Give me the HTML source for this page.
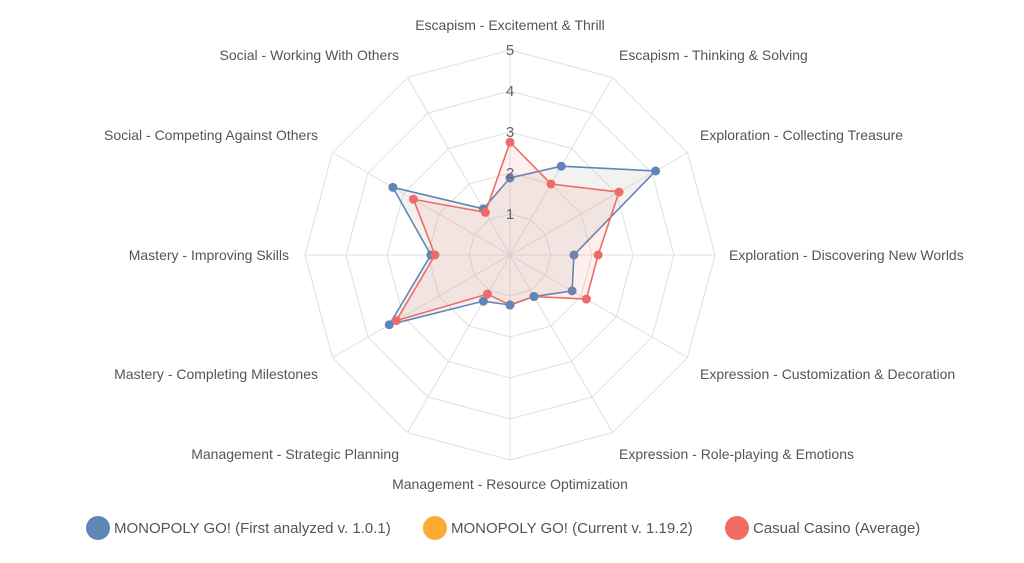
<!DOCTYPE html>
<html><head><meta charset="utf-8"><style>
body{margin:0;background:#fff;}
svg text{font-family:"Liberation Sans",sans-serif;fill:#555;font-size:14px;}
</style></head><body>
<svg width="1024" height="558" viewBox="0 0 1024 558" xmlns="http://www.w3.org/2000/svg">
<g id="grid" stroke="#e0e0e0" stroke-width="1" fill="none"></g>
<g id="series"></g>
<g id="labels"></g>
<g>
<circle cx="98" cy="528" r="12" fill="#5f86b6"/>
<text x="114" y="533" style="font-size:15px">MONOPOLY GO! (First analyzed v. 1.0.1)</text>
<circle cx="435" cy="528" r="12" fill="#fcab32"/>
<text x="451" y="533" style="font-size:15px">MONOPOLY GO! (Current v. 1.19.2)</text>
<circle cx="737" cy="528" r="12" fill="#ee6b66"/>
<text x="753" y="533" style="font-size:15px">Casual Casino (Average)</text>
</g>
</svg>
<script>
const cx=510,cy=255,R=205;
function pt(i,v){const a=i*Math.PI/6;const r=v/5*R;return [cx+r*Math.sin(a),cy-r*Math.cos(a)];}
const g=document.getElementById('grid');
let h='';
for(let k=1;k<=5;k++){let p=[];for(let i=0;i<12;i++)p.push(pt(i,k).join(','));h+=`<polygon points="${p.join(' ')}"/>`;}
for(let i=0;i<12;i++){const q=pt(i,5);h+=`<line x1="${cx}" y1="${cy}" x2="${q[0]}" y2="${q[1]}"/>`;}
g.innerHTML=h;
const blue=[1.88,2.5,4.1,1.56,1.75,1.17,1.22,1.3,3.4,1.93,3.3,1.3];
const red=[2.75,2.0,3.07,2.15,2.15,1.17,1.22,1.1,3.2,1.83,2.72,1.2];
function ser(d,c,f,dots){let p=d.map((v,i)=>pt(i,v));let s=`<polygon points="${p.map(x=>x.join(',')).join(' ')}" fill="${f}" stroke="${c}" stroke-width="1.6"/>`;p.forEach((x,i)=>{if(!dots||dots.includes(i))s+=`<circle cx="${x[0]}" cy="${x[1]}" r="4.5" fill="${c}"/>`});return s;}
document.getElementById('series').innerHTML=ser(blue,'#5f86b6','rgba(200,195,185,0.22)')+ser(red,'#ee6b66','rgba(238,107,102,0.1)',[0,1,2,3,4,7,8,9,10,11])+ser(blue,'#5f86b6','none',[5,6]).replace(/<polygon[^>]*>/,'');
let L='';
[[1,213],[2,172],[3,131],[4,90],[5,49]].forEach(([k,y])=>L+=`<text x="510" y="${y+6}" text-anchor="middle" style="font-size:15px;fill:#666">${k}</text>`);
const labs=[["Escapism - Excitement & Thrill",510,30,"middle"],["Escapism - Thinking & Solving",619,60,"start"],["Exploration - Collecting Treasure",700,140,"start"],["Exploration - Discovering New Worlds",729,260,"start"],["Expression - Customization & Decoration",700,379,"start"],["Expression - Role-playing & Emotions",619,459,"start"],["Management - Resource Optimization",510,489,"middle"],["Management - Strategic Planning",399,459,"end"],["Mastery - Completing Milestones",318,379,"end"],["Mastery - Improving Skills",289,260,"end"],["Social - Competing Against Others",318,140,"end"],["Social - Working With Others",399,60,"end"]];
labs.forEach(l=>L+=`<text x="${l[1]}" y="${l[2]}" text-anchor="${l[3]}">${l[0].replace('&','&amp;')}</text>`);
document.getElementById('labels').innerHTML=L;
</script>
</body></html>
